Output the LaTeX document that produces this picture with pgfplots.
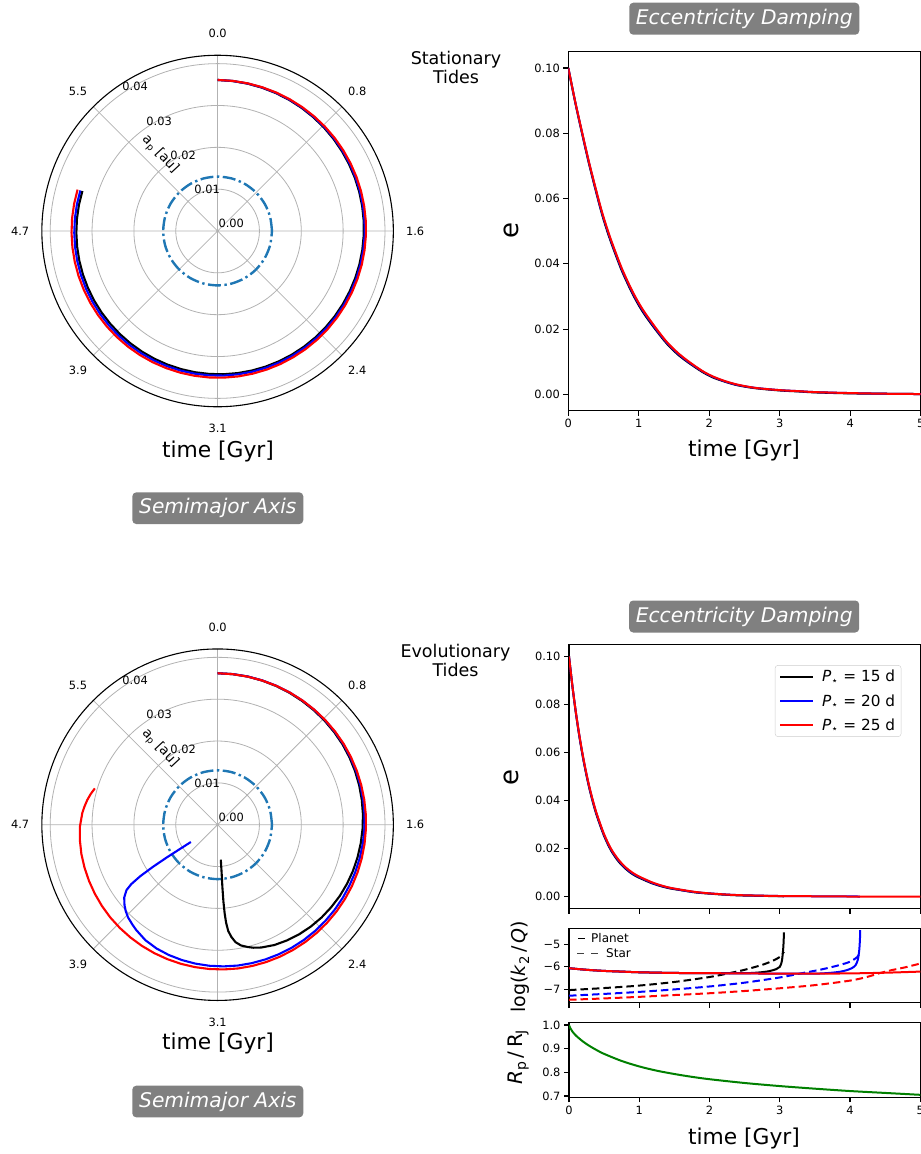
\documentclass[border=0pt]{standalone}
\usepackage{fontspec}
\setmainfont{DejaVu Sans}[ItalicFont={DejaVu Sans Oblique}]
\usepackage{pgfplots}
\pgfplotsset{compat=1.18}
\usepackage{pgfplotstable}
\usepgfplotslibrary{polar}
\definecolor{tabblue}{HTML}{1F77B4}
\definecolor{mplgreen}{HTML}{008000}
\definecolor{boxgray}{HTML}{808080}
\newcommand{\fs}[1]{\fontsize{#1}{#1}\selectfont}

% ---------- polar data: time [Gyr], a_p [au] ----------
\pgfplotstableread{
t r
0 .03610
0.1 .03602
0.2 .03594
0.3 .03586
0.4 .03578
0.5 .03570
0.6 .03562
0.7 .03554
0.8 .03546
0.9 .03538
1.0 .03530
1.1 .03524
1.2 .03518
1.3 .03512
1.4 .03506
1.5 .03500
1.6 .03494
1.7 .03488
1.8 .03482
1.9 .03476
2.0 .03470
2.1 .03466
2.2 .03462
2.3 .03458
2.4 .03454
2.5 .03450
2.6 .03446
2.7 .03442
2.8 .03438
2.9 .03434
3.0 .03430
3.1 .03426
3.2 .03422
3.3 .03418
3.4 .03414
3.5 .03410
3.6 .03406
3.7 .03402
3.8 .03398
3.9 .03394
4.0 .03390
4.1 .03388
4.2 .03386
4.3 .03384
4.4 .03382
4.5 .03380
4.6 .03378
4.7 .03376
4.8 .03374
4.9 .03372
5.0 .03370
}\psblack
\pgfplotstableread{
t r
0 .03610
0.1 .03604
0.2 .03598
0.3 .03592
0.4 .03586
0.5 .03580
0.6 .03574
0.7 .03568
0.8 .03562
0.9 .03556
1.0 .03550
1.1 .03544
1.2 .03538
1.3 .03532
1.4 .03526
1.5 .03520
1.6 .03516
1.7 .03512
1.8 .03508
1.9 .03504
2.0 .03500
2.1 .03496
2.2 .03492
2.3 .03488
2.4 .03484
2.5 .03480
2.6 .03476
2.7 .03472
2.8 .03468
2.9 .03464
3.0 .03460
3.1 .03458
3.2 .03456
3.3 .03454
3.4 .03452
3.5 .03450
3.6 .03448
3.7 .03446
3.8 .03444
3.9 .03442
4.0 .03440
4.1 .03438
4.2 .03436
4.3 .03434
4.4 .03432
4.5 .03430
4.6 .03428
4.7 .03426
4.8 .03424
4.9 .03422
5.0 .03420
}\psblue
\pgfplotstableread{
t r
0 .03610
0.1 .03606
0.2 .03602
0.3 .03598
0.4 .03594
0.5 .03590
0.6 .03586
0.7 .03582
0.8 .03578
0.9 .03574
1.0 .03570
1.1 .03566
1.2 .03562
1.3 .03558
1.4 .03554
1.5 .03550
1.6 .03546
1.7 .03542
1.8 .03538
1.9 .03534
2.0 .03530
2.1 .03528
2.2 .03526
2.3 .03524
2.4 .03522
2.5 .03520
2.6 .03518
2.7 .03516
2.8 .03514
2.9 .03512
3.0 .03510
3.1 .03508
3.2 .03506
3.3 .03504
3.4 .03502
3.5 .03500
3.6 .03499
3.7 .03498
3.8 .03497
3.9 .03496
4.0 .03495
4.1 .03494
4.2 .03494
4.3 .03493
4.4 .03493
4.5 .03492
4.6 .03492
4.7 .03491
4.8 .03491
4.9 .03490
5.0 .03490
}\psred
\pgfplotstableread{
t r
0 .03620
0.1 .03617
0.2 .03613
0.3 .03606
0.4 .03598
0.5 .03590
0.6 .03582
0.7 .03574
0.8 .03566
0.9 .03558
1.0 .03550
1.1 .03538
1.2 .03526
1.3 .03512
1.4 .03497
1.5 .03482
1.6 .03466
1.7 .03450
1.8 .03434
1.9 .03418
2.0 .03400
2.1 .03380
2.2 .03355
2.3 .03330
2.4 .03300
2.5 .03265
2.6 .03225
2.7 .03180
2.8 .03115
2.86 .03060
2.9 .03010
2.95 .02940
2.99 .02840
3.02 .02700
3.042 .02550
3.055 .02350
3.062 .02130
3.066 .01850
3.065 .01500
3.058 .01150
3.05 .00840
}\peblack
\pgfplotstableread{
t r
0 .03620
0.1 .03618
0.2 .03615
0.3 .03611
0.4 .03606
0.5 .03600
0.6 .03594
0.7 .03588
0.8 .03582
0.9 .03576
1.0 .03570
1.1 .03560
1.2 .03550
1.3 .03540
1.4 .03530
1.5 .03520
1.6 .03510
1.7 .03500
1.8 .03490
1.9 .03480
2.0 .03470
2.1 .03464
2.2 .03458
2.3 .03452
2.4 .03446
2.5 .03440
2.6 .03432
2.7 .03424
2.8 .03416
2.9 .03408
3.0 .03400
3.1 .03389
3.2 .03377
3.3 .03362
3.4 .03345
3.5 .03325
3.6 .03298
3.7 .03255
3.8 .03180
3.85 .03135
3.91 .03080
3.96 .03010
4.0 .02940
4.05 .02830
4.09 .02680
4.11 .02500
4.125 .02220
4.135 .01850
4.14 .01450
4.14 .01100
4.138 .00760
}\peblue
\pgfplotstableread{
t r
0 .03620
0.1 .03616
0.2 .03612
0.3 .03608
0.4 .03604
0.5 .03600
0.6 .03596
0.7 .03592
0.8 .03588
0.9 .03584
1.0 .03580
1.1 .03574
1.2 .03568
1.3 .03562
1.4 .03556
1.5 .03550
1.6 .03546
1.7 .03542
1.8 .03538
1.9 .03534
2.0 .03530
2.1 .03524
2.2 .03518
2.3 .03512
2.4 .03506
2.5 .03500
2.6 .03494
2.7 .03488
2.8 .03482
2.9 .03476
3.0 .03470
3.1 .03462
3.2 .03454
3.3 .03446
3.4 .03438
3.5 .03430
3.6 .03422
3.7 .03414
3.8 .03406
3.9 .03398
4.0 .03390
4.1 .03378
4.2 .03366
4.3 .03354
4.4 .03342
4.5 .03330
4.6 .03312
4.7 .03290
4.8 .03245
4.85 .03210
4.9 .03170
4.95 .03120
5.0 .03060
}\pered

% ---------- eccentricity, stationary ----------
\pgfplotstableread{
t e
0 0.1000
0.1 0.0893
0.2 0.0795
0.3 0.0701
0.426 0.0594
0.5 0.0536
0.6 0.0470
0.733 0.0393
0.8 0.0359
0.9 0.0313
1.0 0.0273
1.1 0.0239
1.254 0.0194
1.4 0.0155
1.55 0.0123
1.7 0.0098
1.9 0.0069
2.05 0.0052
2.22 0.0039
2.4 0.0028
2.65 0.0019
3.0 0.0012
3.26 0.0009
3.5 0.0006
4.0 0.0003
4.5 0.0002
5.0 0.0001
}\esblack
\pgfplotstableread{
t e
0 0.1000
0.1 0.0894
0.2 0.0797
0.3 0.0704
0.426 0.0597
0.5 0.0540
0.6 0.0474
0.733 0.0397
0.8 0.0363
0.9 0.0317
1.0 0.0277
1.1 0.0243
1.254 0.0197
1.4 0.0158
1.55 0.0126
1.7 0.0100
1.9 0.0071
2.05 0.0054
2.22 0.0040
2.4 0.0029
2.65 0.0020
3.0 0.0013
3.26 0.0010
3.5 0.0007
4.0 0.0004
4.5 0.0002
5.0 0.0001
}\esblue
\pgfplotstableread{
t e
0 0.1000
0.1 0.0895
0.2 0.0799
0.3 0.0706
0.426 0.0600
0.5 0.0543
0.6 0.0477
0.733 0.0400
0.8 0.0366
0.9 0.0320
1.0 0.0280
1.1 0.0246
1.254 0.0200
1.4 0.0160
1.55 0.0128
1.7 0.0102
1.9 0.0072
2.05 0.0055
2.22 0.0041
2.4 0.0030
2.65 0.0020
3.0 0.0013
3.26 0.0010
3.5 0.0007
4.0 0.0004
4.5 0.0002
5.0 0.0001
}\esred

% ---------- eccentricity, evolutionary ----------
\pgfplotstableread{
t e
0 0.1000
0.05 0.0872
0.1 0.0760
0.15 0.0662
0.2 0.0577
0.25 0.0503
0.3 0.0438
0.35 0.0382
0.4 0.0333
0.5 0.0252
0.6 0.0191
0.7 0.0148
0.8 0.0117
0.9 0.0094
1.0 0.0078
1.2 0.0053
1.4 0.0036
1.6 0.0026
1.8 0.0017
2.0 0.0012
2.25 0.0007
2.5 0.0004
3.06 0.0001
}\eeblack
\pgfplotstableread{
t e
0 0.1000
0.05 0.0873
0.1 0.0762
0.15 0.0665
0.2 0.0580
0.25 0.0506
0.3 0.0442
0.35 0.0386
0.4 0.0337
0.5 0.0256
0.6 0.0195
0.7 0.0152
0.8 0.0120
0.9 0.0097
1.0 0.0081
1.2 0.0055
1.4 0.0038
1.6 0.0027
1.8 0.0018
2.0 0.0013
2.25 0.0008
2.5 0.0005
3.0 0.0002
3.5 0.0001
4.14 0.0000
}\eeblue
\pgfplotstableread{
t e
0 0.1000
0.05 0.0874
0.1 0.0763
0.15 0.0667
0.2 0.0583
0.25 0.0509
0.3 0.0445
0.35 0.0389
0.4 0.0340
0.5 0.0259
0.6 0.0198
0.7 0.0155
0.8 0.0123
0.9 0.0100
1.0 0.0083
1.2 0.0057
1.4 0.0039
1.6 0.0028
1.8 0.0019
2.0 0.0013
2.25 0.0008
2.5 0.0005
3.0 0.0002
3.5 0.0001
4.0 0.0000
5.0 0.0000
}\eered

% ---------- log(k2/Q) ----------
\pgfplotstableread{
t k
0 -6.07
0.25 -6.14
0.5 -6.19
0.75 -6.22
1 -6.25
1.5 -6.28
2 -6.29
2.5 -6.29
2.7 -6.26
2.85 -6.20
2.95 -6.11
3.0 -6.01
3.03 -5.75
3.05 -5.15
3.06 -4.48
}\kpblack
\pgfplotstableread{
t k
0 -6.07
0.25 -6.14
0.5 -6.19
0.75 -6.22
1 -6.25
1.5 -6.28
2 -6.29
2.5 -6.30
3 -6.31
3.5 -6.31
3.7 -6.28
3.85 -6.23
3.95 -6.16
4.03 -6.06
4.08 -5.93
4.11 -5.70
4.13 -5.30
4.14 -4.85
4.145 -4.38
}\kpblue
\pgfplotstableread{
t k
0 -6.07
0.25 -6.14
0.5 -6.19
0.75 -6.22
1 -6.25
1.5 -6.28
2 -6.29
2.5 -6.30
3 -6.31
3.5 -6.31
4 -6.30
4.5 -6.27
5 -6.22
}\kpred
\pgfplotstableread{
t k
0 -7.04
0.5 -6.95
1 -6.84
1.5 -6.68
2 -6.46
2.25 -6.31
2.5 -6.14
2.75 -5.92
2.9 -5.74
3.0 -5.57
3.06 -5.34
}\ksblack
\pgfplotstableread{
t k
0 -7.29
0.5 -7.21
1 -7.12
1.5 -7.01
2 -6.88
2.5 -6.71
3 -6.48
3.3 -6.30
3.6 -6.12
3.85 -5.93
4.0 -5.78
4.1 -5.58
4.145 -5.38
}\ksblue
\pgfplotstableread{
t k
0 -7.47
0.5 -7.41
1 -7.34
1.5 -7.26
2 -7.18
2.5 -7.08
3 -6.96
3.5 -6.82
4 -6.62
4.25 -6.45
4.43 -6.28
4.6 -6.15
4.8 -6.02
5 -5.86
}\ksred

% ---------- planet radius ----------
\pgfplotstableread{
t R
0 1.000
0.02 0.986
0.05 0.972
0.1 0.955
0.2 0.930
0.3 0.910
0.4 0.893
0.5 0.878
0.75 0.848
1.0 0.825
1.25 0.807
1.5 0.793
1.75 0.781
2.0 0.771
2.5 0.755
3.0 0.742
3.5 0.731
4.0 0.721
4.5 0.713
5.0 0.705
}\rad

\pgfplotsset{
  mypolar/.style={
    width=351.5pt, height=351.5pt, scale only axis,
    xmin=0, xmax=360, ymin=0, ymax=0.042,
    xtick={0,45,...,315}, ytick={0.01,0.02,0.03,0.04},
    xticklabels={}, yticklabels={}, scaled y ticks=false,
    major tick length=0pt,
    grid=major, major grid style={gray!60, line width=0.8pt},
    x axis line style={black, line width=1.1pt},
    y axis line style={draw=none},
    clip=false},
  myax/.style={
    scale only axis, xmin=0, xmax=5,
    tick align=outside, tick pos=left, major tick length=5pt,
    tick style={black, line width=1.1pt},
    axis line style={black, line width=1.1pt},
    ticklabel style={font=\fs{11.4}},
    xtick={0,1,2,3,4,5}, scaled ticks=false},
  curve/.style={line width=2pt, smooth},
  pcurve/.style={line width=2.1pt, line join=round},
}

\newcommand{\polarlabels}{%
  \node[font=\fs{11.4}] at (axis cs:90,0.0472) {0.0};
  \node[font=\fs{11.4}] at (axis cs:45,0.0472) {0.8};
  \node[font=\fs{11.4}] at (axis cs:0,0.0472) {1.6};
  \node[font=\fs{11.4}] at (axis cs:315,0.0472) {2.4};
  \node[font=\fs{11.4}] at (axis cs:270,0.0472) {3.1};
  \node[font=\fs{11.4}] at (axis cs:225,0.0472) {3.9};
  \node[font=\fs{11.4}] at (axis cs:180,0.0472) {4.7};
  \node[font=\fs{11.4}] at (axis cs:135,0.0472) {5.5};
  \node[font=\fs{11.4}, anchor=south west, inner sep=0pt, xshift=0.7pt, yshift=2.7pt] at (axis cs:125,0) {0.00};
  \node[font=\fs{11.4}, anchor=south west, inner sep=0pt, xshift=0.7pt, yshift=2.7pt] at (axis cs:125,0.01) {0.01};
  \node[font=\fs{11.4}, anchor=south west, inner sep=0pt, xshift=0.7pt, yshift=2.7pt] at (axis cs:125,0.02) {0.02};
  \node[font=\fs{11.4}, anchor=south west, inner sep=0pt, xshift=0.7pt, yshift=2.7pt] at (axis cs:125,0.03) {0.03};
  \node[font=\fs{11.4}, anchor=south west, inner sep=0pt, xshift=0.7pt, yshift=2.7pt] at (axis cs:125,0.04) {0.04};
  \node[font=\fs{13.5}, rotate=-47] at (axis cs:126.9,0.0229) {a\textsubscript{p} [au]};
}
\newcommand{\roche}{%
  \addplot[tabblue, line width=2.4pt, dash pattern=on 13pt off 3.5pt on 2.4pt off 3.5pt, smooth]
    coordinates {(0,0.013) (15,0.013) (30,0.013) (45,0.013) (60,0.013) (75,0.013) (90,0.013)
    (105,0.013) (120,0.013) (135,0.013) (150,0.013) (165,0.013) (180,0.013) (195,0.013)
    (210,0.013) (225,0.013) (240,0.013) (255,0.013) (270,0.013) (285,0.013) (300,0.013)
    (315,0.013) (330,0.013) (345,0.013) (360,0.013)};
}

\begin{document}
\begin{tikzpicture}[x=1pt,y=1pt]
\useasboundingbox (0pt,0pt) rectangle (921pt,-1154pt);

% ================= top polar (stationary) =================
\begin{polaraxis}[mypolar, at={(217.6pt,-231pt)}, anchor=center]
\roche
\addplot[black, pcurve] table[x expr={90-\thisrow{t}*57.29578}, y=r] {\psblack};
\addplot[blue, pcurve] table[x expr={90-\thisrow{t}*57.29578}, y=r] {\psblue};
\addplot[red, pcurve] table[x expr={90-\thisrow{t}*57.29578}, y=r] {\psred};
\polarlabels
\end{polaraxis}

% ================= bottom polar (evolutionary) =================
\begin{polaraxis}[mypolar, at={(217.6pt,-824.7pt)}, anchor=center]
\roche
\addplot[black, pcurve] table[x expr={90-\thisrow{t}*57.29578}, y=r] {\peblack};
\addplot[blue, pcurve] table[x expr={90-\thisrow{t}*57.29578}, y=r] {\peblue};
\addplot[red, pcurve] table[x expr={90-\thisrow{t}*57.29578}, y=r] {\pered};
\polarlabels
\end{polaraxis}

% ================= top right e (stationary) =================
\begin{axis}[myax, at={(568.3pt,-51.7pt)}, anchor=north west, width=352.4pt, height=359pt,
  ymin=-0.005, ymax=0.105, xticklabels={0,1,2,3,4,5},
  ytick={0,0.02,0.04,0.06,0.08,0.1}, yticklabels={0.00,0.02,0.04,0.06,0.08,0.10}]
\addplot[black, curve] table[x=t, y=e] {\esblack};
\addplot[blue, curve] table[x=t, y=e] {\esblue};
\addplot[red, curve] table[x=t, y=e] {\esred};
\end{axis}

% ================= bottom right e (evolutionary) =================
\begin{axis}[myax, at={(569pt,-644.5pt)}, anchor=north west, width=351.3pt, height=264pt,
  ymin=-0.005, ymax=0.105, xticklabels={},
  ytick={0,0.02,0.04,0.06,0.08,0.1}, yticklabels={0.00,0.02,0.04,0.06,0.08,0.10},
  legend cell align=left,
  legend image code/.code={\draw[#1] (0pt,0pt) -- (33pt,0pt);},
  legend style={at={(0.946,0.922)}, anchor=north east, draw=black!20, rounded corners=3pt,
    fill=white, font=\fs{15.3}, inner xsep=4pt, inner ysep=3pt, row sep=7pt,
    /tikz/every odd column/.append style={column sep=6pt}}]
\addplot[black, curve] table[x=t, y=e] {\eeblack};
\addlegendentry{\textit{P}\textsubscript{⋆} = 15 d}
\addplot[blue, curve] table[x=t, y=e] {\eeblue};
\addlegendentry{\textit{P}\textsubscript{⋆} = 20 d}
\addplot[red, curve] table[x=t, y=e] {\eered};
\addlegendentry{\textit{P}\textsubscript{⋆} = 25 d}
\end{axis}

% ================= log(k2/Q) =================
\begin{axis}[myax, at={(569pt,-928.3pt)}, anchor=north west, width=351.3pt, height=74.4pt,
  ymin=-7.6, ymax=-4.3, xticklabels={},
  ytick={-7,-6,-5}, yticklabels={−7,−6,−5}]
\addplot[black, curve, dash pattern=on 7.5pt off 4pt] table[x=t, y=k] {\ksblack};
\addplot[blue, curve, dash pattern=on 7.5pt off 4pt] table[x=t, y=k] {\ksblue};
\addplot[red, curve, dash pattern=on 7.5pt off 4pt] table[x=t, y=k] {\ksred};
\addplot[black, curve] table[x=t, y=k] {\kpblack};
\addplot[blue, curve] table[x=t, y=k] {\kpblue};
\addplot[red, curve] table[x=t, y=k] {\kpred};
\end{axis}

% ================= R_p / R_J =================
\begin{axis}[myax, at={(569pt,-1022.3pt)}, anchor=north west, width=351.3pt, height=75pt,
  ymin=0.6945, ymax=1.0115, xticklabels={0,1,2,3,4,5},
  ytick={0.7,0.8,0.9,1.0}, yticklabels={0.7,0.8,0.9,1.0}]
\addplot[mplgreen, curve] table[x=t, y=R] {\rad};
\end{axis}

% ---------- Planet / Star key ----------
\draw[black, line width=1.3pt] (578pt,-938.3pt) -- (585pt,-938.3pt);
\node[anchor=west, font=\fs{12}, inner sep=0pt] at (591pt,-938.3pt) {Planet};
\draw[black!75, line width=1.2pt] (577pt,-953.3pt) -- (584pt,-953.3pt);
\draw[black!75, line width=1.2pt] (591pt,-953.3pt) -- (598pt,-953.3pt);
\node[anchor=west, font=\fs{12}, inner sep=0pt] at (606pt,-953.3pt) {Star};

% ---------- texts ----------
\node[font=\fontsize{17.5}{19.5}\selectfont, align=center] at (456pt,-67.5pt) {Stationary\\Tides};
\node[font=\fontsize{17.5}{19.5}\selectfont, align=center] at (455.5pt,-660.5pt) {Evolutionary\\Tides};

\node[font=\fs{21.8}] at (218pt,-451pt) {time [Gyr]};
\node[font=\fs{21.8}] at (218pt,-1043.5pt) {time [Gyr]};
\node[font=\fs{21.8}] at (744pt,-450pt) {time [Gyr]};
\node[font=\fs{21.8}] at (744pt,-1138pt) {time [Gyr]};

\node[font=\fs{26}, rotate=90] at (511.5pt,-230pt) {e};
\node[font=\fs{26}, rotate=90] at (511.5pt,-777pt) {e};
\node[font=\fs{19}, rotate=90] at (520pt,-966.7pt) {log(\textit{k}\textsubscript{2}\,/\,\textit{Q})};
\node[font=\fs{20}, rotate=90] at (518.5pt,-1057pt) {\textit{R}\textsubscript{p}\,/\,R\textsubscript{J}};

\node[fill=boxgray, text=white, rounded corners=4pt, font=\fs{20.2}\itshape,
  minimum width=230pt, minimum height=32pt, inner sep=0pt] at (744.3pt,-18.7pt) {Eccentricity Damping};
\node[fill=boxgray, text=white, rounded corners=4pt, font=\fs{20.2}\itshape,
  minimum width=230pt, minimum height=32pt, inner sep=0pt] at (744.2pt,-616.5pt) {Eccentricity Damping};
\node[fill=boxgray, text=white, rounded corners=4pt, font=\fs{20.2}\itshape,
  minimum width=171pt, minimum height=31.7pt, inner sep=0pt] at (217.8pt,-508.2pt) {Semimajor Axis};
\node[fill=boxgray, text=white, rounded corners=4pt, font=\fs{20.2}\itshape,
  minimum width=171pt, minimum height=31.7pt, inner sep=0pt] at (217.8pt,-1101.5pt) {Semimajor Axis};
\end{tikzpicture}
\end{document}
